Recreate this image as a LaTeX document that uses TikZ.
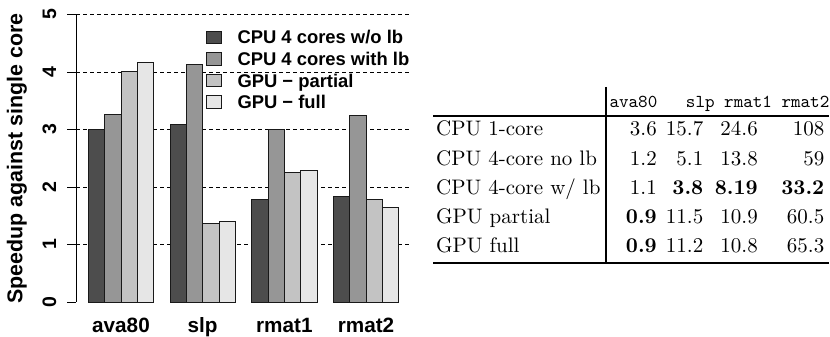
\documentclass[tikz,border=0pt]{standalone}
\usepackage{fontspec}
\newfontfamily\plotfont{Liberation Sans}
\newfontfamily\tabfont{lmroman10-regular}[Extension=.otf, BoldFont=lmroman10-bold]
\newfontfamily\headfont{lmmono10-regular}[Extension=.otf]
\definecolor{barA}{HTML}{4D4D4D}
\definecolor{barB}{HTML}{969696}
\definecolor{barC}{HTML}{C3C3C3}
\definecolor{barD}{HTML}{E6E6E6}
\begin{document}
\begin{tikzpicture}[x=1pt, y=1pt,
    bar/.style={draw=black!90, line width=0.8pt},
    gridline/.style={dash pattern=on 4pt off 3pt, line width=0.7pt},
    plot text/.style={font=\plotfont\bfseries\fontsize{20.7}{24}\selectfont, inner sep=0pt},
    tick text/.style={font=\plotfont\bfseries\fontsize{19.5}{22}\selectfont, inner sep=0pt, rotate=90, anchor=base},
    key text/.style={font=\plotfont\bfseries\fontsize{18.4}{21}\selectfont, inner sep=0pt, anchor=base west},
    row label/.style={font=\tabfont\fontsize{21}{24}\selectfont, inner sep=0pt, anchor=base west},
    num/.style={font=\tabfont\fontsize{21}{24}\selectfont, inner sep=0pt, anchor=base east},
    tablerule/.style={line width=2.4pt}]
    \useasboundingbox (0,0) rectangle (830,337);

    % Bar chart: one unit of speedup is 57.5pt
    \begin{scope}[shift={(0pt,35pt)}, y=57.5pt]
        % Grid
        \foreach \k in {1,...,5}
            \draw[gridline] (76,\k) -- (409,\k);
        % Axis and ticks
        \draw[line width=0.8pt] (76,0) -- (76,5);
        \foreach \k in {0,...,5} {
            \draw[line width=0.8pt] (67,\k) -- (76,\k);
            \node[tick text] (tick\k) at (56,\k) {\k};
        }
        % Bars, four per data set
        \foreach \g/\a/\b/\c/\d in {0/3.0/3.27/4.01/4.16, 1/3.08/4.13/1.36/1.40,
                                    2/1.79/3.0/2.26/2.28, 3/1.83/3.25/1.79/1.65}
            \foreach \v/\col [count=\i from 0] in {\a/barA, \b/barB, \c/barC, \d/barD}
                \draw[bar, fill=\col] ({88.3+81.67*\g+16.33*\i},0) rectangle ++(16.33,\v);
    \end{scope}

    % Axis labels
    \node[plot text, font=\plotfont\bfseries\fontsize{21.4}{25}\selectfont, rotate=90, anchor=base]
        (ylab) at (22.3,178.5) {Speedup against single core};
    \foreach \name [count=\g from 0] in {ava80, slp, rmat1, rmat2}
        \node[plot text, anchor=base] (set\g) at ({121+81.67*\g},4) {\name};

    % Legend
    \foreach \txt/\col [count=\i from 0] in {{CPU 4 cores w/o lb}/barA, {CPU 4 cores with lb}/barB,
                                             {GPU − partial}/barC, {GPU − full}/barD} {
        \draw[bar, fill=\col] (206.7,{293.5-21.6*\i}) rectangle ++(14.3,12.4);
        \node[key text] (key\i) at (237.3,{293.1-21.6*\i}) {\txt};
    }

    % Table of run times
    \draw[tablerule] (433,221) -- (829,221);
    \draw[tablerule] (433,73.7) -- (829,73.7);
    \draw[line width=2pt] (606,250) -- (606,73.7);
    \node[anchor=base east, inner sep=0pt, font=\headfont\fontsize{18.2}{21}\selectfont] (head)
        at (829.5,229.2) {ava80\ \ \ slp rmat1 rmat2};
    \foreach \lab [count=\r from 0] in {{CPU 1-core}, {CPU 4-core no lb}, {CPU 4-core w/ lb}, {GPU partial}, {GPU full}}
        \node[row label] (row\r) at (436,{201-29.1*\r}) {\lab};
    \foreach \r/\a/\b/\c/\d in {0/3.6/15.7/24.6/108, 1/1.2/5.1/13.8/59,
                                2/1.1/\textbf{3.8}/\textbf{8.19}/\textbf{33.2},
                                3/\textbf{0.9}/11.5/10.9/60.5, 4/\textbf{0.9}/11.2/10.8/65.3}
        \foreach \v/\cx [count=\j] in {\a/657, \b/703.5, \c/758, \d/824.5}
            \node[num] (cell\r-\j) at (\cx,{201-29.1*\r}) {\v};
\end{tikzpicture}
\end{document}
